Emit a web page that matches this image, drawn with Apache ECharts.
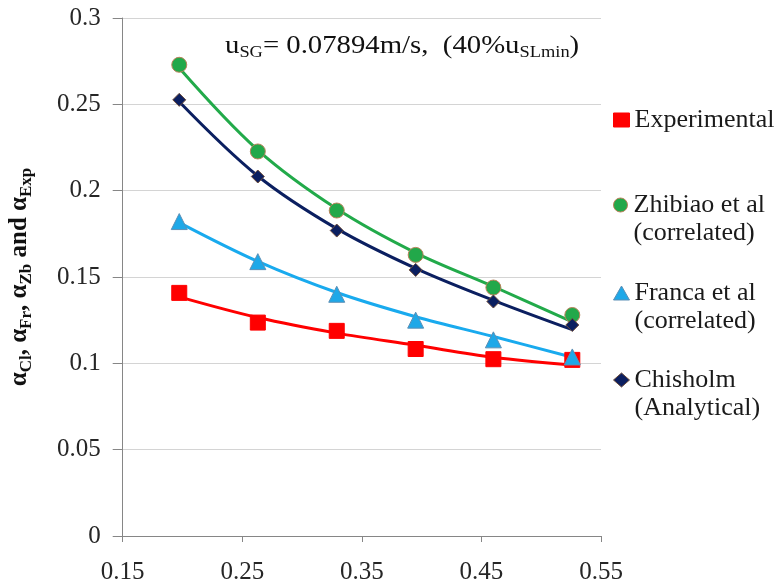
<!DOCTYPE html>
<html><head><meta charset="utf-8">
<script src="https://cdn.jsdelivr.net/npm/echarts@6/dist/echarts.min.js"></script>
<style>html,body{margin:0;padding:0;background:#fff}#c{width:781px;height:585px}</style>
</head><body><div id="c"></div>
<script>
const xValues = [0.1973, 0.263, 0.329, 0.395, 0.460, 0.526];
const expPoints = [0.1408, 0.1236, 0.1188, 0.1083, 0.1024, 0.1020];
const zhiPoints = [0.2729, 0.2227, 0.1885, 0.1628, 0.1439, 0.1280];
const fraPoints = [0.1821, 0.1589, 0.1400, 0.1250, 0.1136, 0.1037];
const chiPoints = [0.2526, 0.2082, 0.1769, 0.1541, 0.1358, 0.1222];
const expTrend = [0.1385, 0.1265, 0.1175, 0.1105, 0.1035, 0.0990];
const zhiTrend = [0.2710, 0.2235, 0.1895, 0.1640, 0.1445, 0.1240];
const fraTrend = [0.1815, 0.1590, 0.1410, 0.1270, 0.1155, 0.1035];
const chiTrend = [0.2515, 0.2085, 0.1780, 0.1550, 0.1365, 0.1195];
const xTicks = [0.15, 0.25, 0.35, 0.45, 0.55];
const yTicks = [0, 0.05, 0.1, 0.15, 0.2, 0.25, 0.3];
const names = ['Experimental', 'Zhibiao et al\n(correlated)', 'Franca et al\n(correlated)', 'Chisholm\n(Analytical)'];

const pair = (ys) => xValues.map((x, i) => [x, ys[i]]);
const FONT = 'Liberation Serif';
const chart = echarts.init(document.getElementById('c'));

const specs = [
  {name: names[0], pts: expPoints, tr: expTrend, color: '#ff0000', line: '#ff0000', sym: 'rect', size: 15, border: '#ff0000'},
  {name: names[1], pts: zhiPoints, tr: zhiTrend, color: '#22a84a', line: '#22aa4a', sym: 'circle', size: 15, border: '#b9825a'},
  {name: names[2], pts: fraPoints, tr: fraTrend, color: '#1ea8e8', line: '#19aaee', sym: 'triangle', size: 16, border: '#5c8fb5'},
  {name: names[3], pts: chiPoints, tr: chiTrend, color: '#0b1f60', line: '#0b1f60', sym: 'diamond', size: 13, border: '#6a4a3a'}
];

const series = [];
specs.forEach((s) => {
  series.push({type: 'line', name: s.name + ' trend', data: pair(s.tr), smooth: 0.35, showSymbol: false,
    lineStyle: {color: s.line, width: 3}, silent: true, z: 2});
});
specs.forEach((s) => {
  series.push({type: 'scatter', name: s.name, data: pair(s.pts), symbol: s.sym, symbolSize: s.size,
    itemStyle: {color: s.color, borderColor: s.border, borderWidth: 1, opacity: 1}, z: 3});
});

const legendTops = [106, 163, 251, 338];
const legends = specs.map((s, i) => ({
  orient: 'vertical', left: 613, top: legendTops[i], padding: 0,
  itemWidth: 16, itemHeight: 14,
  data: [{name: s.name, icon: s.sym,
    itemStyle: {color: s.color, borderColor: s.border, borderWidth: 1}}],
  formatter: (n) => (n.indexOf('\n') >= 0 ? ' \n' + n : n),
  textStyle: {fontFamily: FONT, fontSize: 26, lineHeight: 28, color: '#1a1a1a'},
  selectedMode: false
}));

chart.setOption({
  animation: false,
  backgroundColor: '#fff',
  grid: {left: 122.7, right: 180, top: 18, bottom: 49, outerBoundsMode: 'none', containLabel: false},
  legend: legends,
  xAxis: {
    type: 'value', min: xTicks[0], max: xTicks[xTicks.length - 1], interval: 0.1,
    axisLine: {onZero: false, lineStyle: {color: '#868686', width: 1}},
    axisTick: {show: true, length: 6, lineStyle: {color: '#868686'}},
    axisLabel: {fontFamily: FONT, fontSize: 25, color: '#262626', margin: 24,
      formatter: (v) => String(+v.toFixed(2))},
    splitLine: {show: false}
  },
  yAxis: {
    type: 'value', min: yTicks[0], max: yTicks[yTicks.length - 1], interval: 0.05,
    axisLine: {show: true, lineStyle: {color: '#868686', width: 1}},
    axisTick: {show: true, length: 10, lineStyle: {color: '#868686'}},
    axisLabel: {fontFamily: FONT, fontSize: 25, color: '#262626', margin: 22,
      formatter: (v) => String(+v.toFixed(2))},
    splitLine: {show: true, lineStyle: {color: '#d4d4d4', width: 1}},
    name: '{a|α}{s|Cl}{a|, α}{s|Fr}{a|, α}{s|Zb}{a| and α}{s|Exp}',
    nameLocation: 'middle', nameRotate: 90, nameGap: 88,
    nameTextStyle: {
      rich: {
        a: {fontFamily: FONT, fontWeight: 'bold', fontSize: 25, lineHeight: 30, color: '#111'},
        s: {fontFamily: FONT, fontWeight: 'bold', fontSize: 17, lineHeight: 17, verticalAlign: 'bottom', color: '#111'}
      }
    }
  },
  graphic: [{
    type: 'text', x: 225, y: 31, scaleX: 1.15, z: 10,
    style: {
      text: '{n|u}{s|SG}{n|= 0.07894m/s,  (40%u}{s|SLmin}{n|)}',
      rich: {
        n: {fontFamily: FONT, fontSize: 25, lineHeight: 30, fill: '#111'},
        s: {fontFamily: FONT, fontSize: 16, lineHeight: 16, verticalAlign: 'bottom', fill: '#111'}
      }
    }
  }],
  series: series
});
</script></body></html>
